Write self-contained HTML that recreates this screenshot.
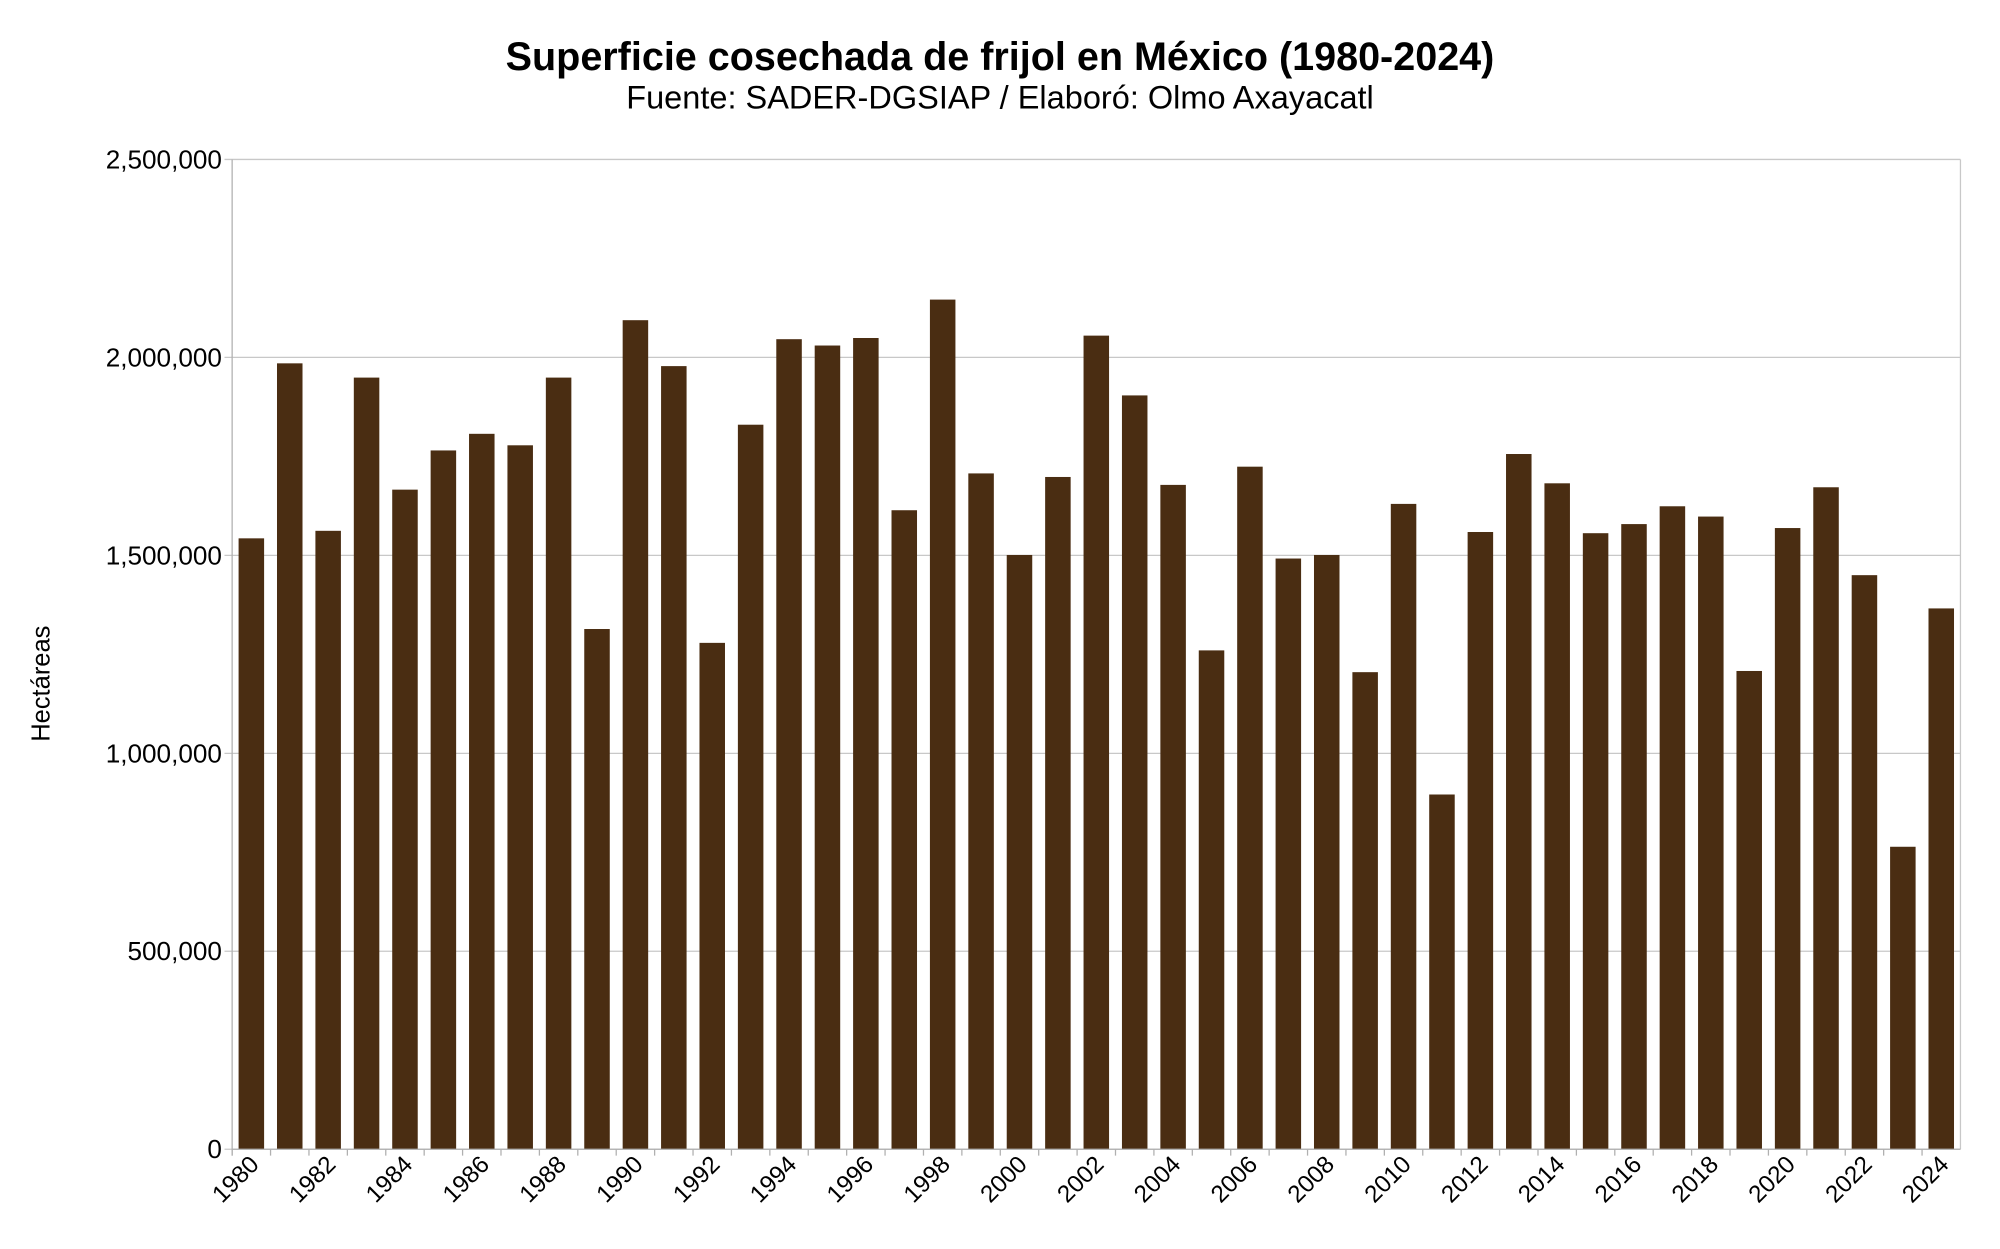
<!DOCTYPE html>
<html><head><meta charset="utf-8"><style>
html,body{margin:0;padding:0;background:#fff;}
svg{display:block;font-family:"Liberation Sans",sans-serif;}
</style></head><body>
<svg id="chart" width="2000" height="1249" viewBox="0 0 1568 979.2" preserveAspectRatio="none" xmlns="http://www.w3.org/2000/svg">
<rect width="1568" height="979.2" fill="#fff"/>
<text x="784" y="55" text-anchor="middle" font-size="31" font-weight="bold">Superficie cosechada de frijol en México (1980-2024)</text>
<text x="784" y="85" text-anchor="middle" font-size="25.5">Fuente: SADER-DGSIAP / Elaboró: Olmo Axayacatl</text>
<text transform="translate(39,536) rotate(-90)" text-anchor="middle" font-size="20">Hectáreas</text>
<g id="grid"></g><g id="bars"></g><g id="axes"></g>
</svg>
<script>
const years = [];
for (let y = 1980; y <= 2024; y++) years.push(y);
const values = [1543000,1985000,1562000,1949000,1666000,1765000,1807000,1778000,1949000,1314000,
2094000,1978000,1279000,1830000,2046000,2030000,2049000,1614000,2146000,1707000,
1501000,1698000,2055000,1904000,1678000,1260000,1724000,1492000,1501000,1205000,
1630000,896000,1559000,1756000,1682000,1556000,1579000,1624000,1598000,1208000,
1569000,1672000,1450000,764000,1366000];
const yTicks = [0,500000,1000000,1500000,2000000,2500000];
const yTickLabels = ["0","500,000","1,000,000","1,500,000","2,000,000","2,500,000"];

const NS = "http://www.w3.org/2000/svg";
const L = 182, R = 1537, T = 125, B = 901, YMAX = 2500000;
const band = (R - L) / years.length;
const barW = 20;
const yS = v => B - v / YMAX * (B - T);
const xS = i => L + band * i + band / 2;
function mk(tag, attrs, parent) {
  const e = document.createElementNS(NS, tag);
  for (const k in attrs) e.setAttribute(k, attrs[k]);
  parent.appendChild(e);
  return e;
}
const grid = document.getElementById('grid'), bars = document.getElementById('bars'), axes = document.getElementById('axes');
yTicks.forEach((t, i) => {
  const ln = mk('line', {x1: L - 6, x2: R, y1: yS(t), y2: yS(t), stroke: '#c8c8c8', 'stroke-width': 1}, grid);
  
  
  const tx = mk('text', {x: L - 8, y: yS(t) + 7, 'text-anchor': 'end', 'font-size': 20.5}, axes);
  tx.textContent = yTickLabels[i];
  
  
});
mk('line', {x1: R, x2: R, y1: T, y2: B, stroke: '#c8c8c8'}, grid);
values.forEach((v, i) => {
  const r = mk('rect', {x: xS(i) - barW / 2, y: yS(v), width: barW, height: B - yS(v), fill: '#4a2d12'}, bars);
  
  
});
const ax = mk('line', {x1: L, x2: L, y1: T, y2: B + 5, stroke: '#b0b0b0'}, axes);


const bx = mk('line', {x1: L, x2: R, y1: B, y2: B, stroke: '#b0b0b0'}, axes);


years.forEach((y, i) => {
  mk('line', {x1: L + band * i, x2: L + band * i, y1: B, y2: B + 5, stroke: '#b0b0b0'}, axes);
  if (i % 2 === 0) {
    const x = xS(i) + 7, yy = B + 13;
    const t = mk('text', {x: x, y: yy, 'text-anchor': 'end', 'font-size': 19, transform: `rotate(-45 ${x} ${yy})`}, axes);
    t.textContent = y;
    
    
  }
});
</script>
</body></html>
